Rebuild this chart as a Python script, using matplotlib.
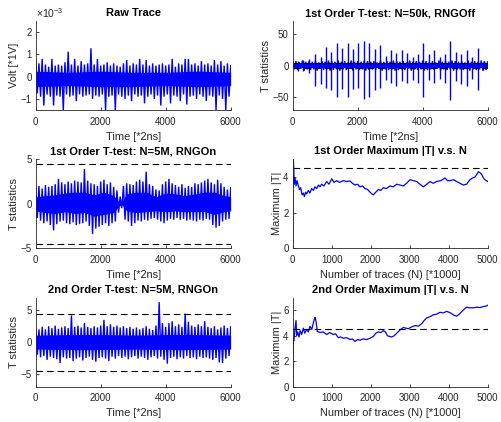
import matplotlib
matplotlib.use('Agg')
import matplotlib.pyplot as plt

plt.rcParams['font.family'] = ['Liberation Sans', 'DejaVu Sans']
plt.rcParams['mathtext.fontset'] = 'custom'
plt.rcParams['mathtext.rm'] = 'Liberation Sans'

# ------------------------------------------------------------------ data
# sample positions of the upper / lower noise tips
tip_x_hi = list(range(0, 6001, 100))
tip_x_lo = list(range(50, 6000, 100))

# Raw trace (values in 1e-3 V)
raw_hi = [0.75, 0.6, 0.8, 0.55, 0.45, 0.8, 0.5, 0.55, 0.5, 0.65, 1.13, 0.55, 0.8, 0.5, 0.7,
          0.55, 0.6, 1.28, 0.55, 0.8, 0.5, 0.55, 0.65, 0.5, 0.6, 0.5, 0.45, 0.6, 0.75, 0.5,
          0.6, 0.55, 0.8, 0.55, 0.75, 0.5, 0.6, 0.5, 0.55, 0.6, 0.5, 0.55, 0.8, 0.45, 0.6,
          0.55, 0.8, 0.8, 0.55, 0.6, 0.5, 0.7, 0.55, 0.6, 0.5, 0.75, 0.55, 0.7, 0.5, 0.6, 0.5]
raw_lo = [-0.75, -0.9, -1.3, -0.8, -0.9, -1.3, -0.85, -0.9, -1.5, -0.8, -0.9, -0.85, -1.1, -0.8,
          -0.9, -0.85, -0.8, -1.0, -0.85, -0.9, -0.8, -1.5, -0.9, -0.85, -1.5, -0.8, -0.9, -1.0,
          -0.85, -1.1, -0.8, -0.9, -0.85, -1.2, -0.9, -0.8, -1.0, -0.85, -1.3, -0.9, -0.8, -1.2,
          -0.85, -0.9, -1.1, -0.8, -1.25, -0.9, -0.85, -1.0, -0.8, -0.9, -1.1, -0.85, -0.9, -1.5,
          -0.85, -1.0, -1.5, -0.9]
raw_core_x = [0, 1000, 2000, 3000, 4000, 5000, 6000]
raw_core_hi = [0.25, 0.2, 0.25, 0.2, 0.2, 0.25, 0.2]
raw_core_lo = [-0.45, -0.4, -0.45, -0.45, -0.4, -0.45, -0.4]

# 1st order T-test, N=50k, RNG off
t50_hi = [6, 7, 5, 8, 6, 7, 6, 8, 5, 7, 6, 8, 7, 6, 8, 6, 7, 5, 8, 6, 7, 6, 8, 7, 6, 7, 5, 8, 6, 7,
          6, 8, 7, 6, 7, 5, 8, 6, 7, 6, 8, 7, 6, 7, 5, 8, 6, 7, 6, 8, 7, 6, 7, 5, 8, 6, 7, 6, 8, 7, 6]
t50_lo = [-6, -7, -5, -8, -6, -7, -6, -8, -5, -7, -6, -8, -7, -6, -8, -6, -7, -5, -8, -6, -7, -6,
          -8, -7, -6, -7, -5, -8, -6, -7, -6, -8, -7, -6, -7, -5, -8, -6, -7, -6, -8, -7, -6, -7,
          -5, -8, -6, -7, -6, -8, -7, -6, -7, -5, -8, -6, -7, -6, -8, -7]
t50_core_x = [0, 3000, 6000]
t50_core_hi = [3.5, 3.5, 3.5]
t50_core_lo = [-3.5, -3.5, -3.5]
t50_spike_x = [175, 330, 510, 690, 860, 1025, 1190, 1355, 1530, 1690, 1855, 2020, 2195, 2360,
               2520, 2690, 2860, 3025, 3190, 3355, 3530, 3690, 3855, 4020, 4195, 4360, 4520,
               4685, 4850, 5025, 5190, 5355, 5515, 5690, 5855]
t50_spike_hi = [8, 9, 10, 19, 13, 30, 22, 36, 27, 35, 26, 35, 38, 35, 26, 32, 15, 24, 20, 25,
                20, 14, 18, 36, 19, 24, 13, 19, 39, 21, 19, 25, 14, 27, 6]
t50_spike_lo = [-8, -9, -12, -32, -29, -36, -39, -50, -37, -49, -37, -35, -53, -50, -38, -36,
                -22, -28, -32, -24, -28, -22, -28, -50, -22, -28, -21, -28, -54, -25, -29, -32,
                -21, -38, -7]

# 1st order T-test, N=5M, RNG on
t1_hi = [1.8, 2.0, 1.7, 2.1, 1.9, 2.0, 2.2, 2.8, 2.4, 2.2, 2.5, 2.3, 2.6, 2.5, 2.4, 3.9, 2.6,
         2.3, 2.2, 2.0, 2.5, 2.7, 2.2, 2.4, 1.9, 1.5, 0.8, 2.0, 2.3, 2.2, 2.1, 2.5, 2.7, 2.5,
         3.6, 2.2, 2.0, 1.6, 1.5, 2.2, 2.5, 2.8, 2.3, 2.1, 1.9, 2.2, 1.8, 2.0, 1.9, 2.3, 2.2,
         2.4, 2.6, 2.8, 2.4, 2.2, 2.7, 2.3, 1.9, 1.6, 1.8]
t1_lo = [-1.6, -1.9, -2.2, -2.0, -2.4, -3.0, -2.3, -2.0, -1.9, -2.2, -2.3, -2.1, -2.4, -2.3,
         -2.2, -2.0, -2.5, -3.4, -2.8, -2.6, -2.4, -2.2, -2.5, -2.2, -2.0, -1.0, -0.5, -1.8,
         -2.0, -2.5, -2.2, -1.9, -2.0, -1.8, -1.9, -1.7, -1.6, -1.8, -2.0, -2.2, -1.9, -1.7,
         -1.8, -1.6, -1.8, -1.7, -1.9, -1.8, -1.9, -2.0, -1.8, -1.9, -1.7, -1.8, -2.4, -2.7,
         -2.5, -2.0, -1.8, -1.7]
t1_core_x = [0, 300, 600, 900, 1200, 1500, 1800, 2100, 2400, 2550, 2650, 2800, 3100, 3400,
             3700, 4000, 4300, 4600, 4900, 5200, 5500, 5800, 6000]
t1_core_hi = [0.8, 0.9, 1.0, 1.2, 1.3, 1.3, 1.0, 1.3, 0.9, 0.3, 0.2, 1.1, 1.3, 1.3, 0.8, 1.2,
              1.1, 0.9, 1.1, 1.3, 1.3, 0.9, 0.8]
t1_core_lo = [-0.8, -1.0, -1.1, -0.9, -1.1, -1.0, -1.4, -1.2, -1.0, -0.3, -0.1, -0.8, -1.0,
              -0.9, -0.8, -0.9, -0.8, -0.9, -0.9, -0.9, -1.2, -0.9, -0.8]

# 2nd order T-test, N=5M, RNG on
t2_hi = [2.2, 2.0, 2.4, 2.0, 2.5, 2.2, 2.6, 2.1, 2.3, 2.5, 2.2, 4.2, 2.4, 2.6, 2.3, 3.0, 2.4,
         2.2, 2.5, 2.3, 2.6, 3.5, 2.5, 2.8, 2.4, 2.6, 2.3, 2.5, 2.2, 2.4, 2.1, 2.3, 2.0, 2.2,
         2.5, 2.1, 1.9, 2.6, 6.3, 3.0, 2.4, 3.0, 3.3, 2.5, 2.8, 2.4, 4.5, 3.2, 2.6, 2.4, 2.8,
         2.5, 3.3, 2.4, 2.2, 2.5, 2.0, 2.3, 2.6, 2.2, 2.4]
t2_lo = [-2.0, -2.4, -2.2, -2.8, -2.3, -2.5, -2.7, -3.3, -2.4, -2.6, -2.5, -3.0, -2.6, -2.4,
         -2.9, -2.5, -2.3, -2.8, -3.1, -2.5, -2.4, -2.6, -3.0, -2.3, -2.6, -2.2, -2.5, -2.3,
         -2.7, -2.4, -2.2, -2.6, -2.3, -2.5, -2.8, -2.4, -2.2, -2.6, -2.3, -2.8, -3.4, -2.5,
         -2.3, -2.7, -2.4, -2.6, -2.2, -2.5, -2.4, -2.7, -2.3, -2.5, -2.4, -2.6, -2.8, -2.5,
         -3.2, -3.3, -2.6, -2.2]
t2_core_x = [0, 1500, 3000, 4500, 6000]
t2_core_hi = [1.1, 1.2, 1.1, 1.2, 1.1]
t2_core_lo = [-1.1, -1.2, -1.1, -1.2, -1.1]

# 1st order maximum |T| vs N (N in thousands)
m1_n = [0, 10, 25, 40, 60, 85, 110, 145, 175, 205, 240, 272, 300, 330, 358, 400, 440, 485,
        530, 570, 614, 660, 700, 742, 800, 870, 930, 1000, 1060, 1127, 1200, 1298, 1380, 1470,
        1530, 1597, 1660, 1725, 1790, 1853, 1920, 1982, 2030, 2068, 2130, 2196, 2260, 2324,
        2400, 2495, 2580, 2666, 2750, 2837, 2920, 3008, 3090, 3179, 3260, 3350, 3440, 3521,
        3600, 3691, 3800, 3905, 3970, 4033, 4120, 4204, 4290, 4375, 4460, 4546, 4610, 4674,
        4720, 4760, 4800, 4845, 4890, 4930, 4970, 5000]
m1_v = [0, 5.3, 4.6, 3.6, 3.95, 3.5, 3.8, 3.5, 3.3, 3.4, 3.0, 3.1, 2.9, 3.15, 3.05, 3.25, 3.1,
        3.35, 3.25, 3.45, 3.35, 3.55, 3.45, 3.6, 3.5, 3.75, 3.6, 3.9, 3.7, 3.8, 3.7, 3.8, 3.75,
        3.78, 3.65, 3.55, 3.6, 3.45, 3.5, 3.35, 3.3, 3.15, 3.05, 3.0, 3.15, 3.3, 3.25, 3.4, 3.35,
        3.5, 3.45, 3.6, 3.55, 3.5, 3.65, 3.85, 3.8, 3.75, 3.6, 3.45, 3.6, 3.75, 3.65, 3.75, 3.8,
        3.95, 3.8, 3.8, 3.85, 3.75, 3.65, 3.55, 3.6, 3.85, 3.95, 4.0, 4.15, 4.3, 4.25, 4.15,
        3.95, 3.85, 3.8, 3.75]

# 2nd order maximum |T| vs N
m2_n = [0, 8, 15, 30, 60, 85, 100, 130, 160, 190, 230, 272, 310, 358, 400, 443, 490, 528, 555,
        575, 600, 630, 700, 780, 870, 950, 1041, 1100, 1170, 1230, 1298, 1380, 1470, 1530, 1597,
        1660, 1725, 1800, 1896, 1980, 2068, 2130, 2196, 2260, 2324, 2380, 2427, 2480, 2537,
        2600, 2666, 2750, 2837, 2900, 2965, 3050, 3136, 3220, 3307, 3370, 3435, 3520, 3606,
        3690, 3777, 3860, 3948, 4010, 4076, 4140, 4204, 4270, 4332, 4400, 4460, 4540, 4631,
        4720, 4802, 4890, 4973, 5000]
m2_v = [0, 2.5, 3.7, 3.6, 4.6, 5.2, 4.0, 4.3, 3.9, 4.4, 4.1, 4.6, 4.2, 4.5, 4.3, 4.75, 4.5, 5.0,
        5.3, 5.45, 5.1, 4.35, 4.25, 4.3, 4.1, 4.25, 4.1, 4.15, 3.85, 3.9, 3.8, 3.85, 3.7, 3.75,
        3.55, 3.7, 3.65, 3.75, 3.7, 3.8, 3.95, 4.2, 4.3, 4.25, 4.4, 4.3, 4.0, 3.95, 3.9, 4.0,
        4.2, 4.45, 4.65, 4.6, 4.55, 4.7, 4.8, 4.75, 4.95, 5.2, 5.4, 5.5, 5.65, 5.7, 5.85, 5.8,
        5.92, 5.85, 5.75, 5.6, 5.55, 5.7, 5.9, 6.1, 6.25, 6.2, 6.2, 6.25, 6.22, 6.3, 6.35, 6.4]

threshold = 4.5

# ------------------------------------------------------------------ style
BLUE = '#0000FF'
DARK = '#262626'
TICK_FS = 7
LAB_FS = 7.9
TITLE_FS = 8

fig = plt.figure(figsize=(5.02, 4.22), dpi=100)

L1, L2, W, H = 0.0711, 0.5831, 0.3884, 0.2105
rows = [0.7393, 0.4120, 0.0841]


def make_ax(left, bottom):
    ax = fig.add_axes([left, bottom, W, H])
    for s in ('top', 'right'):
        ax.spines[s].set_visible(False)
    for s in ('left', 'bottom'):
        ax.spines[s].set_linewidth(0.6)
        ax.spines[s].set_color(DARK)
    ax.tick_params(direction='in', length=2.5, width=0.6, colors=DARK,
                   labelsize=TICK_FS)
    ax.tick_params(axis='x', pad=5)
    ax.tick_params(axis='y', pad=3)
    return ax


def draw_noise(ax, core_x, core_hi, core_lo, hi, lo):
    ax.fill_between(core_x, core_lo, core_hi, color=BLUE, lw=0)
    xs, ys = [], []
    for i in range(len(hi)):
        xs.append(tip_x_hi[i]); ys.append(hi[i])
        if i < len(lo):
            xs.append(tip_x_lo[i]); ys.append(lo[i])
    ax.plot(xs, ys, color=BLUE, lw=1.0, solid_joinstyle='miter')


def dashed(ax, y, x0, x1):
    ax.plot([x0, x1], [y, y], color='black', lw=0.8, ls=(0, (6, 3.5)))


def finish(ax, title, xlabel, ylabel):
    ax.set_title(title, fontsize=TITLE_FS, fontweight='bold', color='black', pad=3.5)
    ax.set_xlabel(xlabel, fontsize=LAB_FS, color=DARK, labelpad=3.5)
    ax.set_ylabel(ylabel, fontsize=LAB_FS, color=DARK, labelpad=1)


# Raw trace
ax = make_ax(L1, rows[0])
draw_noise(ax, raw_core_x, raw_core_hi, raw_core_lo, raw_hi, raw_lo)
ax.set_xlim(0, 6000); ax.set_ylim(-1.5, 2.5)
ax.set_xticks([0, 2000, 4000, 6000]); ax.set_yticks([-1, 0, 1, 2])
ax.text(0.0, 1.01, r'$\times\mathregular{10^{-3}}$', transform=ax.transAxes,
        fontsize=7.5, color=DARK, ha='left', va='bottom')
finish(ax, 'Raw Trace', 'Time [*2ns]', 'Volt [*1V]')

# 1st order T-test N=50k
ax = make_ax(L2, rows[0])
draw_noise(ax, t50_core_x, t50_core_hi, t50_core_lo, t50_hi, t50_lo)
ax.vlines(t50_spike_x, t50_spike_lo, t50_spike_hi, color=BLUE, lw=1.0)
dashed(ax, threshold, 0, 6000); dashed(ax, -threshold, 0, 6000)
ax.set_xlim(0, 6000); ax.set_ylim(-70, 70)
ax.set_xticks([0, 2000, 4000, 6000]); ax.set_yticks([-50, 0, 50])
finish(ax, '1st Order T-test: N=50k, RNGOff', 'Time [*2ns]', 'T statistics')

# 1st order T-test N=5M
ax = make_ax(L1, rows[1])
draw_noise(ax, t1_core_x, t1_core_hi, t1_core_lo, t1_hi, t1_lo)
dashed(ax, threshold, 0, 6000); dashed(ax, -threshold, 0, 6000)
ax.set_xlim(0, 6000); ax.set_ylim(-5, 5)
ax.set_xticks([0, 2000, 4000, 6000]); ax.set_yticks([-5, 0, 5])
finish(ax, '1st Order T-test: N=5M, RNGOn', 'Time [*2ns]', 'T statistics')

# 1st order max |T|
ax = make_ax(L2, rows[1])
ax.plot(m1_n, m1_v, color=BLUE, lw=0.9)
dashed(ax, threshold, 0, 5000)
ax.set_xlim(0, 5000); ax.set_ylim(0, 5)
ax.set_xticks([0, 1000, 2000, 3000, 4000, 5000]); ax.set_yticks([0, 2, 4])
finish(ax, '1st Order Maximum |T| v.s. N', 'Number of traces (N) [*1000]', 'Maximum |T|')

# 2nd order T-test
ax = make_ax(L1, rows[2])
draw_noise(ax, t2_core_x, t2_core_hi, t2_core_lo, t2_hi, t2_lo)
dashed(ax, threshold, 0, 6000); dashed(ax, -threshold, 0, 6000)
ax.set_xlim(0, 6000); ax.set_ylim(-7, 7)
ax.set_xticks([0, 2000, 4000, 6000]); ax.set_yticks([-5, 0, 5])
finish(ax, '2nd Order T-test: N=5M, RNGOn', 'Time [*2ns]', 'T statistics')

# 2nd order max |T|
ax = make_ax(L2, rows[2])
ax.plot(m2_n, m2_v, color=BLUE, lw=0.9)
dashed(ax, threshold, 0, 5000)
ax.set_xlim(0, 5000); ax.set_ylim(0, 7)
ax.set_xticks([0, 1000, 2000, 3000, 4000, 5000]); ax.set_yticks([0, 2, 4, 6])
finish(ax, '2nd Order Maximum |T| v.s. N', 'Number of traces (N) [*1000]', 'Maximum |T|')

fig.savefig('out.png', dpi=100)
